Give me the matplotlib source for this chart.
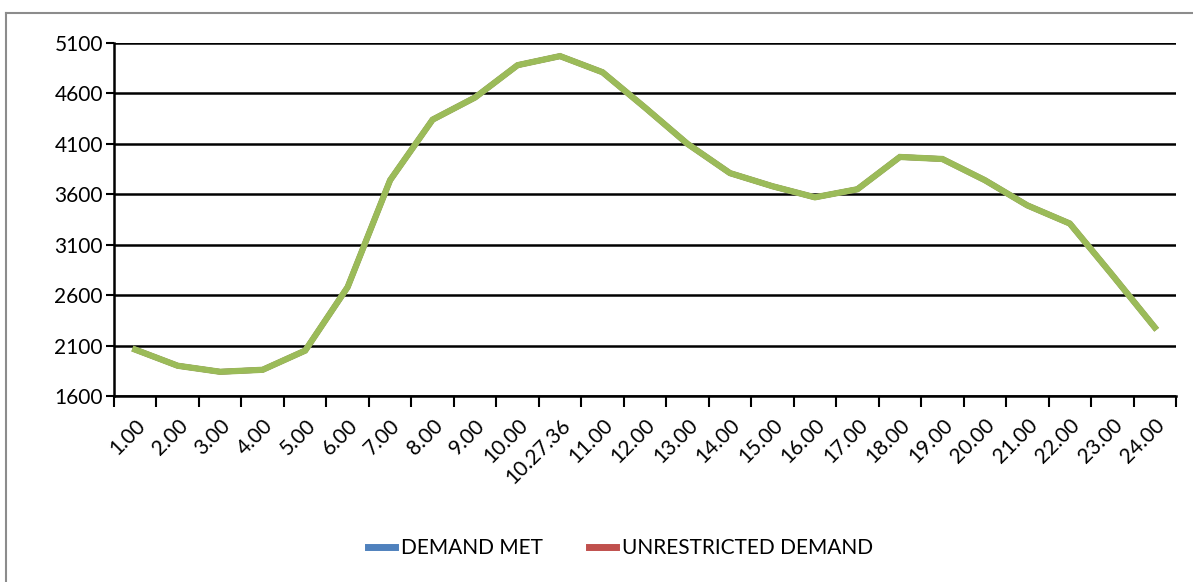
import matplotlib
matplotlib.use("Agg")
import matplotlib.pyplot as plt
from matplotlib.lines import Line2D

hours = ["1.00", "2.00", "3.00", "4.00", "5.00", "6.00", "7.00", "8.00", "9.00",
         "10.00", "10.27.36", "11.00", "12.00", "13.00", "14.00", "15.00", "16.00",
         "17.00", "18.00", "19.00", "20.00", "21.00", "22.00", "23.00", "24.00"]
demand_met = [2060, 1900, 1840, 1860, 2050, 2680, 3740, 4340, 4560, 4880, 4970,
              4810, 4460, 4100, 3810, 3680, 3570, 3650, 3970, 3950, 3740, 3490,
              3310, 2800, 2280]
unrestricted = list(demand_met)
peak_curve = list(demand_met)

plt.rcParams["font.family"] = ["Lato", "DejaVu Sans"]

W, H = 1193, 582
fig = plt.figure(figsize=(W / 100, H / 100), dpi=100)
ax = fig.add_axes([114 / W, (H - 396) / H, (1176 - 114) / W, (396 - 43) / H])

x = list(range(len(hours)))
ax.plot(x, demand_met, color="#4F81BD", lw=4, label="DEMAND MET")
ax.plot(x, unrestricted, color="#C0504D", lw=4, label="UNRESTRICTED DEMAND")
ax.plot(x, peak_curve, color="#9BBB59", lw=4.5, solid_joinstyle="miter")

ax.set_xlim(-0.5, len(hours) - 0.5)
ax.set_ylim(1600, 5100)
ax.set_yticks(range(1600, 5101, 500))
ax.set_xticks([i - 0.5 for i in range(len(hours) + 1)], minor=False)
ax.set_xticklabels([])
ax.set_xticks(x, minor=True)
ax.set_xticklabels(hours, minor=True, rotation=45, ha="right",
                   rotation_mode="anchor", fontsize=15)
ax.tick_params(axis="x", which="minor", length=0, pad=14)
ax.tick_params(axis="x", which="major", length=8, width=1.5, direction="out")
ax.tick_params(axis="y", length=6, width=1.5, labelsize=15, pad=2)

ax.grid(axis="y", color="black", lw=1.8)
ax.set_axisbelow(True)
for s in ["top", "right"]:
    ax.spines[s].set_visible(False)
for s in ["left", "bottom"]:
    ax.spines[s].set_linewidth(1.8)

leg = fig.legend(loc="center", bbox_to_anchor=(0.52, (H - 548) / H), ncol=2,
                 frameon=False, fontsize=15, handlelength=1.3, columnspacing=2.2,
                 handletextpad=0.3)
for h in leg.get_lines():
    h.set_linewidth(5)

# outer chart border
fig.add_artist(Line2D([6 / W, 1], [(H - 13) / H] * 2, color="#8c8c8c", lw=1.5))
fig.add_artist(Line2D([6 / W] * 2, [0, (H - 13) / H], color="#8c8c8c", lw=1.5))

fig.savefig("out.png", dpi=100)
